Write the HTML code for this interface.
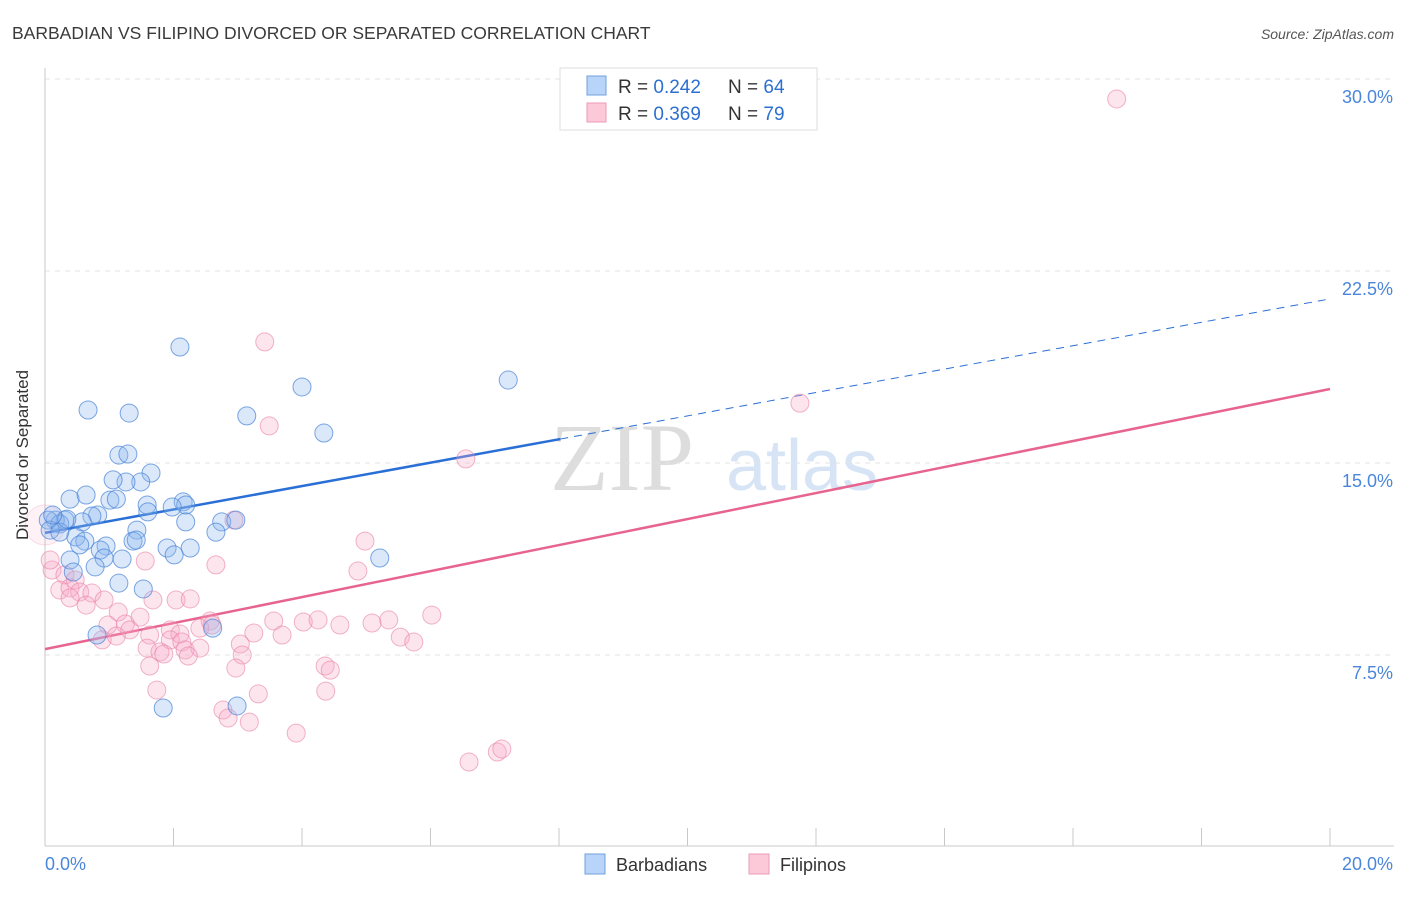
<!DOCTYPE html>
<html><head><meta charset="utf-8"><style>
body{margin:0;background:#fff;font-family:"Liberation Sans",sans-serif}
svg text{font-family:"Liberation Sans",sans-serif}
</style></head><body>
<svg id="chart" width="1406" height="892" xmlns="http://www.w3.org/2000/svg">
<text x="12" y="39" font-size="17.5" fill="#3a3a3a">BARBADIAN VS FILIPINO DIVORCED OR SEPARATED CORRELATION CHART</text>
<text x="1394" y="39" font-size="14" fill="#555" font-style="italic" text-anchor="end">Source: ZipAtlas.com</text>
<g>
<text x="622" y="490" font-size="96" fill="#ddd" text-anchor="middle" style="font-family:'Liberation Serif',serif">ZIP</text>
<text x="802" y="490" font-size="72" fill="#d6e4f5" text-anchor="middle">atlas</text>
</g>
<g id="grid"></g><g id="axes"></g><g id="trends"></g><g id="pts"></g>
<text x="28" y="455" font-size="17" fill="#333" text-anchor="middle" transform="rotate(-90 28 455)">Divorced or Separated</text>
<g>
<rect x="560" y="68" width="257" height="62" fill="#fff" stroke="#ddd"/>
<rect x="587" y="76" width="19" height="19" fill="#b8d4f8" stroke="#6fa0e0"/>
<rect x="587" y="103" width="19" height="19" fill="#fcc9d8" stroke="#ec9ab5"/>
<text x="618" y="93" font-size="19" fill="#333">R = <tspan fill="#2d6fd1">0.242</tspan></text>
<text x="728" y="93" font-size="19" fill="#333">N = <tspan fill="#2d6fd1">64</tspan></text>
<text x="618" y="120" font-size="19" fill="#333">R = <tspan fill="#2d6fd1">0.369</tspan></text>
<text x="728" y="120" font-size="19" fill="#333">N = <tspan fill="#2d6fd1">79</tspan></text>
</g>
<g>
<rect x="585" y="854" width="20" height="20" fill="#b8d4f8" stroke="#6fa0e0"/>
<text x="616" y="871" font-size="18" fill="#333">Barbadians</text>
<rect x="749" y="854" width="20" height="20" fill="#fcc9d8" stroke="#ec9ab5"/>
<text x="780" y="871" font-size="18" fill="#333">Filipinos</text>
</g>
</svg>
<script>
const blueX=[2.10,0.67,1.31,3.14,4.00,4.34,7.21,1.15,1.29,1.65,1.49,1.26,1.06,0.39,0.64,1.01,1.11,1.59,2.15,2.19,1.98,1.60,0.82,0.73,0.31,0.58,0.16,0.05,0.23,2.19,2.75,2.97,1.43,2.66,0.48,0.62,0.54,0.95,0.86,1.37,1.42,1.90,2.26,2.01,0.92,1.20,5.21,0.39,0.78,0.44,1.15,1.53,2.61,0.81,1.84,2.99,0.08,0.23,0.34,0.12];
const blueY=[19.53,17.07,16.95,16.84,17.97,16.17,18.24,15.31,15.35,14.61,14.26,14.26,14.34,13.59,13.75,13.55,13.59,13.36,13.48,13.36,13.28,13.09,12.97,12.93,12.77,12.70,12.77,12.77,12.62,12.70,12.70,12.77,12.38,12.30,12.11,11.95,11.80,11.76,11.60,11.95,11.99,11.68,11.68,11.41,11.29,11.25,11.29,11.21,10.94,10.74,10.31,10.08,8.55,8.28,5.43,5.51,12.38,12.30,12.81,12.97];
const pinkX=[16.68,3.42,3.49,11.75,6.55,2.94,4.98,1.56,2.66,4.87,0.11,0.31,0.47,0.23,0.39,0.54,0.73,0.92,0.64,0.39,1.68,2.04,2.26,1.14,1.48,2.57,3.56,4.02,4.25,4.59,5.09,5.35,6.02,0.98,1.25,1.32,1.63,1.95,2.10,2.41,2.60,3.25,3.69,5.53,5.74,0.89,1.11,1.95,2.13,3.04,1.59,1.79,2.18,2.41,3.07,2.23,1.85,1.63,2.97,4.36,4.44,1.74,3.32,4.37,2.77,2.85,3.18,3.91,7.04,7.11,6.60,0.08,0.0];
const pinkY=[29.22,19.73,16.45,17.34,15.16,12.77,11.95,11.17,11.02,10.78,10.82,10.63,10.43,10.04,10.12,9.96,9.92,9.65,9.45,9.73,9.65,9.65,9.69,9.18,8.98,8.83,8.83,8.79,8.87,8.67,8.75,8.87,9.06,8.67,8.71,8.48,8.28,8.48,8.32,8.55,8.67,8.36,8.28,8.20,8.01,8.09,8.24,8.09,8.01,7.93,7.77,7.62,7.70,7.77,7.50,7.46,7.54,7.07,6.99,7.07,6.91,6.13,5.98,6.09,5.35,5.04,4.88,4.45,3.71,3.83,3.32,11.21,12.58];
const pinkR=[];for(let i=0;i<pinkX.length;i++)pinkR.push(i===pinkX.length-1?20:9);
const yTicks=[7.5,15,22.5,30];
const yTickLabels=["7.5%","15.0%","22.5%","30.0%"];
const xTicks=[0,2,4,6,8,10,12,14,16,18,20];
const blueTrend=[12.27,21.41];
const blueSolidEnd=8.02;
const pinkTrend=[7.73,17.89];
const NS="http://www.w3.org/2000/svg";
const sx=v=>45+v*64.25, sy=v=>847-v*25.6;
function mk(t,a,p){const e=document.createElementNS(NS,t);for(const k in a)e.setAttribute(k,a[k]);p.appendChild(e);return e;}
const grid=document.getElementById('grid'),axes=document.getElementById('axes'),tr=document.getElementById('trends'),pts=document.getElementById('pts');
yTicks.forEach((v,i)=>{
 const l=mk('line',{x1:45,x2:1394,y1:sy(v),y2:sy(v),stroke:'#e3e3e3','stroke-dasharray':'5,5'},grid);
 
 
 const t=mk('text',{x:1393,y:sy(v)+24,'font-size':18,fill:'#4a86db','text-anchor':'end'},axes);
 t.textContent=yTickLabels[i];
 
 
});
const ya=mk('line',{x1:45,x2:45,y1:68,y2:846,stroke:'#c8c8c8'},axes);


const xa=mk('line',{x1:45,x2:1394,y1:846,y2:846,stroke:'#c8c8c8'},axes);


xTicks.forEach(v=>{const l=mk('line',{x1:sx(v),x2:sx(v),y1:828,y2:846,stroke:'#c8c8c8'},axes);
 
 });
const x0=mk('text',{x:45,y:870,'font-size':18,fill:'#4a86db'},axes);x0.textContent='0.0%';


const x1=mk('text',{x:1393,y:870,'font-size':18,fill:'#4a86db','text-anchor':'end'},axes);x1.textContent='20.0%';


function drawPts(X,Y,R,fill,stroke,name,bigFill,bigStroke){for(let i=0;i<X.length;i++){const big=R&&R[i]>12;const c=mk('circle',{cx:sx(X[i]),cy:sy(Y[i]),r:R?R[i]:9,fill:big?bigFill:fill,stroke:big?bigStroke:stroke,'stroke-width':1},pts);
 
 }}
drawPts(pinkX,pinkY,pinkR,'rgba(248,170,198,0.3)','rgba(232,130,165,0.6)','filipino-point','rgba(248,170,198,0.15)','rgba(232,130,165,0.25)');
drawPts(blueX,blueY,null,'rgba(140,185,240,0.32)','rgba(70,130,215,0.7)','barbadian-point');
const by=x=>blueTrend[0]+(blueTrend[1]-blueTrend[0])*x/20;
const b1=mk('line',{x1:sx(0),y1:sy(by(0)),x2:sx(blueSolidEnd),y2:sy(by(blueSolidEnd)),stroke:'#2a6fd6','stroke-width':2.5},tr);


const b2=mk('line',{x1:sx(blueSolidEnd),y1:sy(by(blueSolidEnd)),x2:sx(20),y2:sy(by(20)),stroke:'#2a6fd6','stroke-width':1,'stroke-dasharray':'8,6'},tr);


const p1=mk('line',{x1:sx(0),y1:sy(pinkTrend[0]),x2:sx(20),y2:sy(pinkTrend[1]),stroke:'#e7648f','stroke-width':2.5},tr);


</script>
</body></html>
